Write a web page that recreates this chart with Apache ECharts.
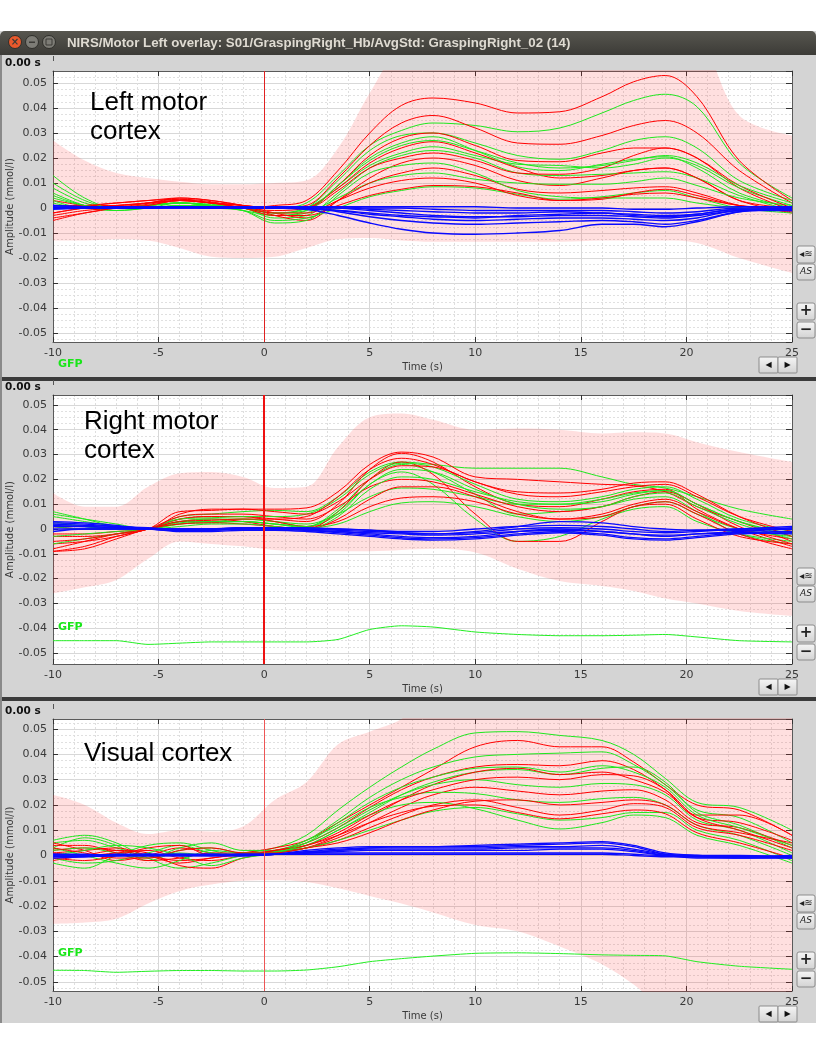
<!DOCTYPE html>
<html><head><meta charset="utf-8">
<script src="https://cdn.jsdelivr.net/npm/echarts@6/dist/echarts.min.js"></script>
<style>html,body{margin:0;padding:0;background:#fff}#c{width:816px;height:1056px}</style>
</head><body><div id="c"></div>
<script>
// Time samples (s)
const T = [-10,-8.5,-7,-5.5,-4,-2.5,-1,0.5,2,3.5,5,6.5,8,10,12,14,16,17.5,19,20.5,22.5,25];

// ---------- Left motor cortex (mmol/l) ----------
const leftRed = [
 [.003,.001,0,.001,.003,.002,0,.001,.003,.015,.030,.041,.044,.042,.038,.0385,.0445,.0505,.053,.0445,.019,.003],
 [-.002,0,.001,.002,.003,.002,.001,0,.001,.012,.025,.034,.037,.032,.026,.0255,.029,.033,.035,.030,.015,.002],
 [0,.001,.002,.003,.0035,.002,.001,0,0,.009,.021,.028,.030,.025,.019,.0185,.022,.024,.024,.020,.008,-.001],
 [-.004,-.002,0,.002,.0035,.0025,0,-.001,0,.008,.018,.024,.0265,.022,.016,.012,.013,.015,.016,.012,.003,-.002],
 [-.002,0,.001,.002,.003,.002,.001,-.003,-.005,.003,.012,.018,.020,.017,.011,.009,.012,.015,.016,.012,.003,0],
 [0,.001,.001,.002,.004,.003,.001,-.002,-.004,.003,.010,.014,.016,.013,.0075,.006,.007,.008,.0085,.006,.001,-.0015],
 [-.003,-.001,0,.0015,.003,.002,0,-.003,-.003,.001,.005,.0075,.009,.0085,.006,.003,.0035,.006,.0075,.005,.001,0],
 [.001,.001,.002,.003,.004,.003,.001,0,0,.007,.016,.020,.022,.019,.014,.0135,.016,.021,.024,.020,.009,0],
 [-.005,-.002,0,.001,.003,.002,0,-.002,-.002,.003,.008,.011,.012,.010,.005,.003,.004,.0055,.006,.004,.001,-.001]
];
const leftGreen = [
 [.005,.001,0,.001,.002,.001,0,0,.002,.013,.025,.031,.034,.033,.0305,.032,.038,.043,.0455,.0405,.018,.004],
 [.013,.004,0,0,.001,.001,0,-.002,0,.011,.023,.029,.030,.026,.021,.0195,.023,.027,.0285,.024,.011,.003],
 [.008,.002,0,.001,.002,.001,-.001,-.003,-.001,.009,.020,.026,.0285,.023,.0165,.015,.0175,.0195,.0205,.016,.006,0],
 [.003,0,0,.001,.002,.0015,0,-.002,0,.008,.017,.022,.0245,.021,.0175,.017,.016,.0175,.020,.017,.008,.001],
 [.006,.001,-.001,0,.002,.001,0,-.004,-.003,.006,.016,.021,.023,.020,.014,.013,.0135,.014,.0145,.012,.005,-.001],
 [.002,0,0,.001,.002,.001,0,-.003,-.002,.004,.010,.013,.014,.0115,.010,.0095,.0095,.0105,.012,.009,.004,.001],
 [.001,0,-.001,0,.001,0,-.001,-.005,-.004,0,.0045,.007,.0085,.008,.0055,.0035,.0045,.006,.007,.004,0,-.002],
 [.010,.003,0,0,.001,.001,-.001,-.006,-.005,.005,.014,.017,.018,.014,.007,.0045,.004,.004,.004,.002,0,-.001],
 [.004,.001,0,.001,.002,.001,0,-.002,-.001,.009,.019,.025,.027,.023,.018,.016,.017,.019,.021,.018,.009,.002]
];
const leftBlue = [
 [0,0,0,0,.0005,.0005,0,0,-.0005,-.003,-.006,-.0085,-.010,-.0105,-.010,-.009,-.0065,-.0065,-.0075,-.0055,-.0015,0],
 [.0005,0,0,0,.0005,0,0,0,0,-.0015,-.0035,-.005,-.006,-.0065,-.006,-.0055,-.005,-.0055,-.0065,-.005,-.0015,-.0005],
 [0,0,0,.0005,.0005,0,0,0,0,-.001,-.0025,-.0035,-.0045,-.005,-.0045,-.004,-.004,-.0045,-.005,-.004,-.001,-.001],
 [.001,.0005,0,0,.0005,.0005,.0005,0,.0005,0,-.001,-.002,-.003,-.0035,-.0035,-.003,-.003,-.0035,-.004,-.003,-.001,0],
 [0,0,0,0,0,0,0,0,0,0,-.0005,-.001,-.0015,-.002,-.002,-.0015,-.002,-.0025,-.003,-.0025,-.0005,-.001],
 [-.0005,0,.0005,.0005,.0005,0,.0005,.0005,.0005,.0005,0,0,-.0005,-.001,-.001,-.001,-.001,-.0015,-.002,-.0015,0,0],
 [.001,.0005,.0005,0,.0005,.0005,.0005,.0005,.0005,.0005,.0005,.0005,.0005,.0005,0,0,0,-.0005,-.0005,0,.0005,.0005],
 [0,0,0,0,0,0,0,0,-.0005,-.001,-.002,-.003,-.0035,-.004,-.003,-.0025,-.002,-.003,-.0035,-.0025,-.0005,-.0005]
];
const leftStdUpper = [.027,.019,.014,.012,.0105,.0095,.0095,.010,.011,.024,.046,.065,.07,.07,.07,.07,.07,.07,.07,.068,.037,.029];
const leftStdLower = [-.013,-.013,-.0125,-.013,-.016,-.0195,-.020,-.0195,-.016,-.0125,-.012,-.013,-.0135,-.0135,-.0135,-.0135,-.013,-.013,-.013,-.014,-.020,-.026];

// ---------- Right motor cortex ----------
const rightRed = [
 [-.003,-.003,-.002,0,.007,.0075,.008,.008,.0085,.015,.026,.031,.029,.021,.020,.019,.018,.0175,.015,.009,.003,-.005],
 [-.006,-.005,-.003,0,.004,.005,.005,.004,.003,.010,.024,.0305,.027,.017,.010,.009,.012,.015,.016,.008,0,-.007],
 [-.008,-.005,-.002,0,.003,.004,.003,.001,0,.007,.020,.027,.022,.006,-.005,-.005,.003,.009,.010,.004,-.003,-.006],
 [-.009,-.007,-.003,0,.005,.006,.006,.005,.004,.009,.017,.020,.019,.014,.009,.007,.009,.013,.015,.010,.001,-.006],
 [-.002,-.002,-.001,0,.004,.005,.005,.003,.001,.003,.009,.0125,.013,.011,.006,.004,.006,.010,.012,.007,0,-.004],
 [.001,0,0,0,.006,.008,.008,.007,.006,.011,.020,.0255,.025,.019,.014,.013,.015,.017,.018,.013,.005,-.001],
 [-.009,-.008,-.004,0,.002,.0025,.002,.001,0,.004,.012,.017,.017,.013,.007,.004,.005,.009,.011,.006,-.002,-.008],
 [-.005,-.004,-.002,0,.003,.0035,.004,.004,.005,.013,.024,.0285,.026,.019,.015,.0145,.016,.0185,.019,.014,.005,-.003]
];
const rightGreen = [
 [.006,.004,.002,0,.005,.006,.007,.0075,.007,.013,.023,.027,.026,.0245,.0245,.0245,.021,.018,.0165,.013,.008,.004],
 [.003,.001,0,0,.003,.003,.004,.003,.001,.008,.020,.026,.023,.014,.006,.007,.009,.012,.013,.007,-.002,-.006],
 [.005,.003,.001,0,.002,.0025,.003,.002,.001,.006,.018,.023,.018,.004,-.005,-.003,.004,.008,.009,.003,-.002,-.005],
 [.002,.001,0,0,.003,.004,.004,.003,.002,.006,.013,.0165,.016,.013,.010,.010,.012,.0145,.0155,.010,.003,-.002],
 [-.006,-.004,-.002,0,.002,.003,.003,.002,.0005,.002,.007,.0105,.011,.009,.005,.003,.005,.009,.011,.006,0,-.003],
 [-.003,-.002,-.001,0,.004,.0045,.005,.005,.006,.012,.022,.0265,.025,.018,.012,.011,.013,.016,.017,.012,.004,-.001],
 [.007,.004,.001,0,.0025,.003,.003,.002,.001,.007,.018,.024,.023,.016,.010,.008,.009,.013,.0145,.009,.002,-.004],
 [.001,0,0,0,.001,.002,.002,.001,0,.005,.016,.021,.020,.015,.011,.010,.011,.014,.0155,.010,.003,-.003]
];
const rightBlue = [
 [.003,.0025,.0015,0,-.0005,-.0005,0,0,-.0005,-.001,-.002,-.003,-.0035,-.003,-.001,0,-.001,-.002,-.003,-.002,-.001,0],
 [.001,.001,.0005,0,-.0005,0,.0005,0,-.0005,-.0015,-.0025,-.0035,-.004,-.0035,-.002,-.001,-.002,-.0035,-.004,-.003,-.0015,-.001],
 [.002,.0015,.001,.0005,0,0,0,.0005,0,-.0005,-.001,-.0015,-.002,-.001,.001,.003,.0025,.001,0,-.0005,-.0005,.0005],
 [0,0,0,0,-.001,-.001,-.0005,-.0005,-.001,-.002,-.003,-.004,-.0045,-.004,-.0025,-.0015,-.0025,-.004,-.0045,-.0035,-.002,-.0015],
 [.0015,.001,.0005,0,0,0,.0005,.0005,0,0,-.0005,-.001,-.001,0,.001,.0015,.001,0,-.001,-.0005,0,0],
 [-.001,0,0,0,-.0005,-.0005,0,0,-.0005,-.001,-.0015,-.002,-.0025,-.002,-.001,-.0005,-.001,-.002,-.0025,-.002,-.0015,-.002],
 [.0025,.002,.001,0,0,0,.0005,.0005,.0005,0,-.0005,-.0015,-.002,-.0015,0,.0005,0,-.001,-.0015,-.001,0,.001]
];
const rightStdUpper = [.0145,.009,.009,.017,.0225,.023,.021,.0165,.017,.033,.045,.0465,.044,.040,.0405,.040,.0385,.039,.0385,.035,.031,.027];
const rightStdLower = [-.026,-.0235,-.0205,-.012,-.005,-.006,-.007,-.0085,-.009,-.009,-.009,-.0085,-.008,-.0095,-.016,-.021,-.023,-.025,-.028,-.030,-.033,-.035];
const rightGFP = [-.045,-.045,-.045,-.0465,-.046,-.0455,-.0455,-.0455,-.0455,-.0445,-.0405,-.039,-.0395,-.0415,-.0425,-.043,-.043,-.0428,-.0425,-.0435,-.045,-.0455];

// ---------- Visual cortex ----------
const visualRed = [
 [.002,.003,.002,0,-.002,-.001,.001,.003,.006,.013,.020,.027,.034,.043,.0455,.043,.043,.037,.028,.020,.018,.008],
 [.005,.002,-.002,0,.003,.001,0,.002,.005,.011,.019,.026,.031,.035,.036,.0355,.0375,.034,.026,.016,.016,.008],
 [.001,0,.001,.002,-.001,-.002,0,.001,.003,.008,.015,.022,.028,.033,.0345,.032,.033,.030,.025,.015,.013,.006],
 [-.002,0,.002,.001,-.004,-.005,-.001,.001,.003,.007,.013,.019,.024,.027,.0255,.024,.0255,.026,.022,.013,.011,.004],
 [.004,.004,.001,-.002,-.001,.001,.001,.0015,.003,.006,.011,.016,.020,.022,.019,.016,.018,.0205,.019,.011,.008,.002],
 [.001,.002,.003,0,-.003,-.001,.0005,.002,.004,.008,.013,.017,.0195,.020,.017,.0145,.0165,.018,.0165,.009,.005,-.001],
 [-.001,-.002,0,.003,.004,0,0,.002,.004,.009,.016,.022,.026,.030,.031,.030,.032,.0315,.026,.015,.010,.003],
 [.003,.001,-.001,-.001,.002,.003,.001,.001,.003,.005,.009,.014,.018,.0215,.022,.020,.021,.022,.020,.012,.009,.005]
];
const visualGreen = [
 [.005,.006,.003,0,.001,0,.001,.003,.008,.018,.027,.035,.042,.0485,.049,.0475,.0455,.040,.0305,.021,.019,.010],
 [.003,.007,.004,-.002,.002,.003,.001,.002,.006,.014,.023,.030,.035,.039,.040,.0405,.041,.036,.028,.018,.015,.005],
 [-.003,-.005,0,.004,.005,.002,0,.001,.004,.010,.017,.024,.029,.033,.034,.032,.0345,.035,.029,.017,.012,.003],
 [.006,.008,.005,-.001,-.005,-.003,0,.0015,.005,.011,.018,.024,.028,.030,.028,.027,.0285,.028,.024,.014,.010,.001],
 [.002,.003,.001,-.001,.003,.005,.002,.002,.006,.012,.019,.023,.025,.0245,.022,.021,.0225,.023,.020,.012,.008,0],
 [-.001,-.003,-.002,.001,.004,.001,0,.001,.003,.006,.010,.014,.0175,.019,.0165,.014,.015,.017,.017,.010,.006,-.002],
 [.003,0,-.003,-.005,-.002,.002,.001,.0015,.004,.010,.016,.020,.021,.0185,.014,.0105,.013,.016,.015,.008,.004,-.003],
 [0,.002,.004,.003,0,-.004,-.001,.001,.005,.013,.021,.027,.031,.0345,.035,.033,.0355,.033,.027,.016,.011,.004]
];
const visualBlue = [
 [0,0,0,0,0,0,0,.0005,.002,.003,.0035,.0035,.0035,.0035,.004,.0045,.005,.0035,.0005,-.0005,-.0005,-.0005],
 [.0005,0,0,0,0,.0005,.0005,.0005,.0015,.0025,.003,.003,.003,.003,.0035,.0035,.004,.0025,.0005,0,-.0005,0],
 [-.0005,-.0005,0,0,0,0,0,.0005,.001,.0015,.002,.002,.002,.002,.002,.0025,.0025,.0015,0,-.0005,-.001,-.001],
 [0,0,.0005,.0005,0,0,0,.0005,.001,.001,.001,.001,.001,.001,.001,.001,.001,.0005,0,0,0,-.0005],
 [.0005,.0005,0,0,.0005,0,.0005,.0005,.0005,.0005,.0005,.0005,.0005,.0005,.0005,.0005,.0005,0,-.0005,-.0005,-.0005,-.0005],
 [-.001,-.0005,0,0,0,0,0,.0005,.0015,.002,.0025,.0025,.0025,.0025,.003,.003,.003,.002,0,-.001,-.001,-.0005],
 [0,0,0,.0005,.0005,.0005,0,.0005,.001,.002,.003,.0035,.0035,.004,.0045,.005,.0055,.004,.001,0,-.0005,-.001]
];
const visualStdUpper = [.024,.020,.013,.0085,.010,.0095,.0115,.022,.029,.044,.049,.054,.065,.07,.07,.07,.07,.07,.07,.07,.07,.07];
const visualStdLower = [-.027,-.0265,-.025,-.019,-.014,-.0115,-.010,-.0098,-.0105,-.013,-.016,-.019,-.0225,-.0275,-.030,-.036,-.043,-.051,-.06,-.06,-.06,-.06];
const visualGFP = [-.0454,-.0455,-.0462,-.0458,-.0455,-.0455,-.0457,-.0457,-.0453,-.044,-.042,-.0408,-.0398,-.0387,-.0385,-.0388,-.0393,-.0395,-.0397,-.042,-.0438,-.045];

const panelTitles = [['Left motor','cortex'],['Right motor','cortex'],['Visual cortex']];
const yAxisName = 'Amplitude (mmol/l)';
const xAxisName = 'Time (s)';
const windowTitle = 'NIRS/Motor Left overlay: S01/GraspingRight_Hb/AvgStd: GraspingRight_02 (14)';

// ---------- layout ----------
const panels = [
  {top:71, height:271, ymin:-0.0536, ymax:0.0548, red:leftRed, green:leftGreen, blue:leftBlue, up:leftStdUpper, lo:leftStdLower, gfp:null, stimW:1, stimC:'#e02020', title:{x:90,y:103}},
  {top:395, height:269, ymin:-0.0544, ymax:0.0540, red:rightRed, green:rightGreen, blue:rightBlue, up:rightStdUpper, lo:rightStdLower, gfp:rightGFP, stimW:2, stimC:'#ee1111', title:{x:84,y:422}},
  {top:719, height:272, ymin:-0.0536, ymax:0.0540, red:visualRed, green:visualGreen, blue:visualBlue, up:visualStdUpper, lo:visualStdLower, gfp:visualGFP, stimW:1, stimC:'#ee5555', title:{x:84,y:754}}
];
const L = 53, W = 739;
const RED = '#ff0000', GREEN = '#1ee81e', BLUE = '#0a0aff', PINK = 'rgba(255,40,40,0.15)';
const FONT = 'DejaVu Sans';

const pts = a => T.map((t, i) => [t, a[i]]);
// value first, time second (so stacking acts on the value dimension)
const vpts = a => T.map((t, i) => [a[i], t]);

const grids = [], xAxes = [], yAxes = [], series = [], graphics = [];

panels.forEach((p, gi) => {
  grids.push({left:L, top:p.top, width:W, height:p.height, show:true, backgroundColor:'#ffffff', borderWidth:0,
    containLabel:false, outerBoundsMode:'none'});
  const axLine = {show:true, onZero:false, lineStyle:{color:'#5a5a5a', width:1}};
  const tick = {show:true, inside:true, length:5, lineStyle:{color:'#333'}};
  xAxes.push({gridIndex:gi, type:'value', min:-10, max:25, interval:5, position:'bottom',
    axisLine:axLine, axisTick:tick,
    axisLabel:{show:true, color:'#3a3a3a', fontSize:11, fontFamily:FONT, margin:6},
    splitLine:{show:true, lineStyle:{color:'#d8d8d8', width:1}},
    minorTick:{show:false, splitNumber:5},
    minorSplitLine:{show:true, lineStyle:{color:'#dedede', type:[2,2], width:1}},
    name:xAxisName, nameLocation:'middle', nameGap:20, nameMoveOverlap:false,
    nameTextStyle:{color:'#3a3a3a', fontSize:10, fontFamily:FONT}});
  xAxes.push({gridIndex:gi, type:'value', min:-10, max:25, interval:5, position:'top',
    axisLine:axLine, axisTick:tick, axisLabel:{show:false}, splitLine:{show:false}});
  yAxes.push({gridIndex:gi, type:'value', min:p.ymin, max:p.ymax, minInterval:0.01, maxInterval:0.01, splitNumber:10,
    position:'left', axisLine:axLine, axisTick:tick,
    axisLabel:{show:true, color:'#3a3a3a', fontSize:11, fontFamily:FONT, margin:6, showMinLabel:false, showMaxLabel:false},
    splitLine:{show:true, lineStyle:{color:'#d8d8d8', width:1}},
    minorTick:{show:false, splitNumber:4},
    minorSplitLine:{show:true, lineStyle:{color:'#e0e0e0', type:[2,2], width:1}},
    name:yAxisName, nameLocation:'middle', nameGap:38, nameRotate:90, nameMoveOverlap:false,
    nameTextStyle:{color:'#3a3a3a', fontSize:10, fontFamily:FONT}});
  yAxes.push({gridIndex:gi, type:'value', min:p.ymin, max:p.ymax, minInterval:0.01, maxInterval:0.01, splitNumber:10,
    position:'right', axisLine:axLine, axisTick:{show:true, inside:true, length:6, lineStyle:{color:'#333'}},
    axisLabel:{show:false}, splitLine:{show:false}});

  const xi = gi * 2, yi = gi * 2;
  const base = {type:'line', xAxisIndex:xi, yAxisIndex:yi, symbol:'none', smooth:0.35, silent:true, animation:false};
  // std band (lower edge + stacked width)
  series.push(Object.assign({}, base, {data:vpts(p.lo), encode:{x:1, y:0}, stack:'band'+gi, stackStrategy:'all',
    lineStyle:{opacity:0}, z:1,
    markLine:{silent:true, symbol:'none', label:{show:false}, animation:false,
      lineStyle:{color:p.stimC, width:p.stimW, type:'solid'}, data:[{xAxis:0}]}}));
  series.push(Object.assign({}, base, {data:vpts(p.up.map((v, i) => v - p.lo[i])), encode:{x:1, y:0},
    stack:'band'+gi, stackStrategy:'all',
    lineStyle:{opacity:0}, areaStyle:{color:PINK, opacity:1}, z:1}));
  // channels
  const n = Math.max(p.red.length, p.green.length);
  for (let k = 0; k < n; k++) {
    if (p.green[k]) series.push(Object.assign({}, base, {data:pts(p.green[k]), lineStyle:{color:GREEN, width:1}, z:3}));
    if (p.red[k]) series.push(Object.assign({}, base, {data:pts(p.red[k]), lineStyle:{color:RED, width:1}, z:3}));
  }
  p.blue.forEach(b => series.push(Object.assign({}, base, {data:pts(b), lineStyle:{color:BLUE, width:1.3}, z:4})));
  if (p.gfp) series.push(Object.assign({}, base, {data:pts(p.gfp), smooth:0.2, lineStyle:{color:'#22ee22', width:1}, z:4}));

  // panel decorations
  const bot = p.top + p.height;
  graphics.push({type:'text', x:5, y:p.top - 8, z:100, style:{text:'0.00 s', font:'bold 10.5px "DejaVu Sans"', fill:'#111', verticalAlign:'middle'}});
  graphics.push({type:'rect', shape:{x:53, y:p.top - 15, width:1, height:5}, style:{fill:'#555'}, z:100});
  panelTitles[gi].forEach((s, j) => graphics.push({type:'text', x:p.title.x, y:p.title.y + j * 29, z:100,
    style:{text:s, font:'26px "Liberation Sans"', fill:'#000', verticalAlign:'middle'}}));
  const gfpY = gi === 0 ? bot + 22 : (gi === 1 ? 627 : 953);
  graphics.push({type:'text', x:58, y:gfpY, z:100, style:{text:'GFP', font:'bold 11px "DejaVu Sans"', fill:'#19e619', verticalAlign:'middle'}});
  // side buttons
  const grad = () => new echarts.graphic.LinearGradient(0,0,0,1,[{offset:0,color:'#f6f6f6'},{offset:1,color:'#d2d2d2'}]);
  const btn = (y, h, label, font) => {
    graphics.push({type:'rect', shape:{x:797, y:y, width:18, height:h, r:2}, z:100,
      style:{fill:grad(), stroke:'#8c8c8c', lineWidth:1}});
    graphics.push({type:'text', x:806, y:y + h / 2, z:101, style:{text:label, font:font, fill:'#222', align:'center', verticalAlign:'middle'}});
  };
  btn(bot - 96, 17, '◂≋', '10px "DejaVu Sans"');
  btn(bot - 78, 16, 'AS', 'italic 9px "DejaVu Sans"');
  btn(bot - 39, 17, '+', 'bold 15px "DejaVu Sans"');
  btn(bot - 20, 16, '−', 'bold 15px "DejaVu Sans"');
  const arrow = (x, label) => {
    graphics.push({type:'rect', shape:{x:x, y:bot + 15, width:19, height:16, r:1}, z:100,
      style:{fill:grad(), stroke:'#8c8c8c', lineWidth:1}});
    graphics.push({type:'text', x:x + 9.5, y:bot + 23, z:101, style:{text:label, font:'8px "DejaVu Sans"', fill:'#111', align:'center', verticalAlign:'middle'}});
  };
  arrow(759, '◀');
  arrow(778, '▶');
});

// window chrome
graphics.push({type:'rect', shape:{x:0, y:0, width:816, height:31}, style:{fill:'#ffffff'}, z:50});
graphics.push({type:'rect', shape:{x:0, y:31, width:816, height:24, r:[5,5,0,0]},
  style:{fill:new echarts.graphic.LinearGradient(0,0,0,1,[{offset:0,color:'#57564f'},{offset:1,color:'#3c3b37'}])}, z:50});
graphics.push({type:'circle', shape:{cx:15, cy:42, r:6.5}, style:{fill:'#e9592c', stroke:'#2f2f2b', lineWidth:1}, z:51});
graphics.push({type:'text', x:15, y:42, z:52, style:{text:'×', font:'bold 10px "DejaVu Sans"', fill:'#3c3b37', align:'center', verticalAlign:'middle'}});
graphics.push({type:'circle', shape:{cx:32, cy:42, r:6.5}, style:{fill:'#7d7c76', stroke:'#2f2f2b', lineWidth:1}, z:51});
graphics.push({type:'rect', shape:{x:29, y:41.5, width:6, height:1.5}, style:{fill:'#3c3b37'}, z:52});
graphics.push({type:'circle', shape:{cx:49, cy:42, r:6.5}, style:{fill:'#7d7c76', stroke:'#2f2f2b', lineWidth:1}, z:51});
graphics.push({type:'rect', shape:{x:46, y:39, width:6, height:6}, style:{fill:'none', stroke:'#3c3b37', lineWidth:1}, z:52});
graphics.push({type:'text', x:67, y:43, z:52, style:{text:windowTitle, font:'bold 13.3px "Liberation Sans"', fill:'#dfdbd2', verticalAlign:'middle'}});
// separators & bottom
graphics.push({type:'rect', shape:{x:0, y:377, width:816, height:4}, style:{fill:'#3b3b3b'}, z:50});
graphics.push({type:'rect', shape:{x:0, y:697, width:816, height:4}, style:{fill:'#3b3b3b'}, z:50});
graphics.push({type:'rect', shape:{x:0, y:1023, width:816, height:33}, style:{fill:'#ffffff'}, z:50});
graphics.push({type:'rect', shape:{x:0, y:55, width:2, height:968}, style:{fill:'#8a8a8a'}, z:50});

const chart = echarts.init(document.getElementById('c'), null, {renderer:'canvas', width:816, height:1056});
chart.setOption({
  backgroundColor:'#d4d4d4',
  animation:false,
  grid:grids, xAxis:xAxes, yAxis:yAxes, series:series, graphic:graphics
});
</script>
</body></html>
